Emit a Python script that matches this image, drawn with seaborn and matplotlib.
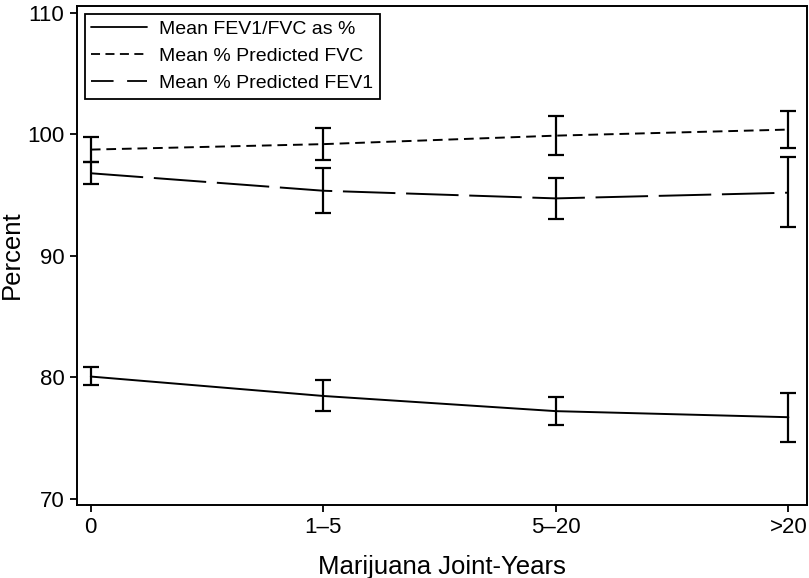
import numpy as np
import pandas as pd
import seaborn as sns
import matplotlib.pyplot as plt
from matplotlib.lines import Line2D

## Data
groups = ["0", "1\u20135", "5\u201320", ">20"]
ratio_mean = [80.05, 78.45, 77.2, 76.7]
ratio_lo = [79.37, 77.18, 76.05, 74.66]
ratio_hi = [80.8, 79.75, 78.33, 78.68]
fvc_mean = [98.75, 99.2, 99.9, 100.4]
fvc_lo = [97.7, 97.9, 98.3, 98.92]
fvc_hi = [99.78, 100.52, 101.48, 101.93]
fev1_mean = [96.8, 95.36, 94.73, 95.2]
fev1_lo = [95.9, 93.5, 93.07, 92.35]
fev1_hi = [97.7, 97.27, 96.38, 98.1]

labels = ["Mean FEV1/FVC as %", "Mean % Predicted FVC", "Mean % Predicted FEV1"]

sns.set_style("ticks")
plt.rcParams['font.family'] = ['Liberation Sans', 'DejaVu Sans']
plt.rcParams['text.color'] = 'black'
plt.rcParams['axes.labelcolor'] = 'black'
plt.rcParams['xtick.color'] = 'black'
plt.rcParams['ytick.color'] = 'black'

df = pd.DataFrame({
    "pos": list(range(4)) * 3,
    "val": ratio_mean + fvc_mean + fev1_mean,
    "series": [labels[0]] * 4 + [labels[1]] * 4 + [labels[2]] * 4,
})

fig = plt.figure(figsize=(8.09, 5.78), dpi=100)
ax = fig.add_axes([0.095, 0.127, 0.9025, 0.863])

styles = {labels[0]: "-", labels[1]: (0, (5, 3)), labels[2]: (0, (27, 5.5))}
for name, grp in df.groupby("series", sort=False):
    sns.lineplot(data=grp, x="pos", y="val", ax=ax, color="black",
                 linewidth=1.4, linestyle=styles[name], legend=False)

x = np.arange(4)
for m, lo, hi in [(ratio_mean, ratio_lo, ratio_hi), (fvc_mean, fvc_lo, fvc_hi),
                  (fev1_mean, fev1_lo, fev1_hi)]:
    m = np.array(m)
    err = [m - np.array(lo), np.array(hi) - m]
    ax.errorbar(x, m, yerr=err, fmt="none", ecolor="black", elinewidth=1.6,
                capsize=5.5, capthick=1.6)

ax.set_xlim(-0.06, 3.08)
ax.set_ylim(69.5, 110.6)
ax.set_xticks(x)
ax.set_xticklabels(groups)
ax.set_yticks([70, 80, 90, 100, 110])
ax.tick_params(labelsize=16, length=5, width=1.3, pad=4)
for s in ax.spines.values():
    s.set_visible(True)
    s.set_linewidth(1.4)
    s.set_color("black")
ax.set_xlabel("Marijuana Joint-Years", fontsize=18.5, labelpad=12)
ax.set_ylabel("Percent", fontsize=18.5)
ax.yaxis.set_label_coords(-0.073, 0.5)

handles = [Line2D([], [], color="black", lw=1.3, ls="-"),
           Line2D([], [], color="black", lw=1.3, ls=(0, (5, 3))),
           Line2D([], [], color="black", lw=1.3, ls=(0, (12.5, 7.5)))]
leg = ax.legend(handles, labels, loc="upper left", fontsize=14, frameon=True,
                fancybox=False, edgecolor="black", framealpha=1,
                handlelength=2.85, handletextpad=0.65, borderaxespad=0.4,
                labelspacing=0.48, borderpad=0.35)
leg.get_frame().set_linewidth(1.3)

fig.savefig("out.png", dpi=100)
